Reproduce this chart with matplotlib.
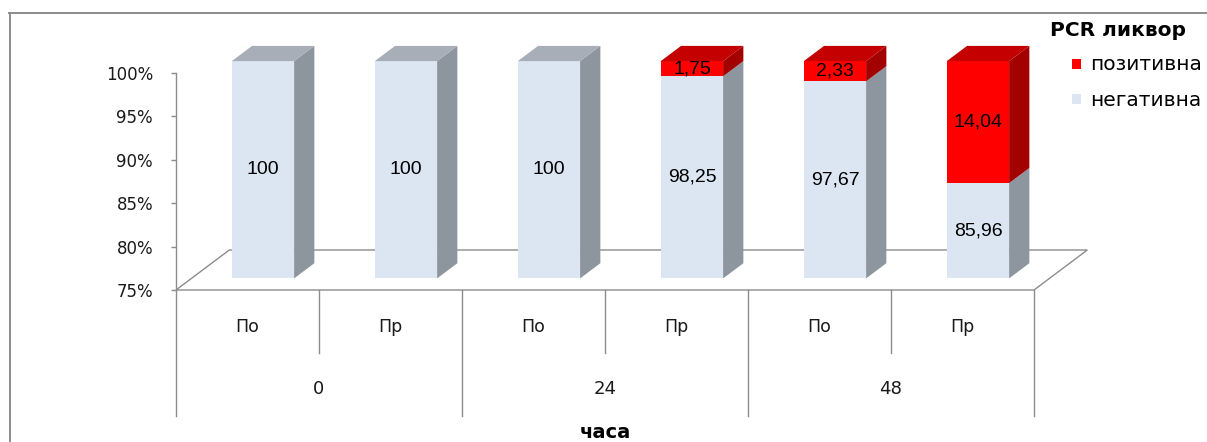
import matplotlib
matplotlib.use("Agg")
import matplotlib.pyplot as plt
from matplotlib.patches import Polygon, Rectangle
from matplotlib.lines import Line2D
from matplotlib.ticker import FuncFormatter

# ---- data -------------------------------------------------------------
groups = ["0", "24", "48"]
subgroups = ["По", "Пр"]
negative = [100, 100, 100, 98.25, 97.67, 85.96]
positive = [0, 0, 0, 1.75, 2.33, 14.04]
series_names = ["позитивна", "негативна"]
legend_title = "PCR ликвор"
axis_title = "часа"
yticks = [75, 80, 85, 90, 95, 100]

# ---- styling ----------------------------------------------------------
NEG_FRONT, NEG_SIDE, NEG_TOP = "#DCE6F2", "#8D959E", "#A7AEB7"
POS_FRONT, POS_SIDE, POS_TOP = "#FF0000", "#A30000", "#C40000"
LINE = "#8C8C8C"
TXT = "#1A1A1A"

W, H, DPI = 1207, 442, 100
fig = plt.figure(figsize=(W / DPI, H / DPI), dpi=DPI)
fig.patch.set_facecolor("white")

def fx(px):
    return px / W

def fy(py):
    return 1 - py / H

# plot area: x in category slots, y in percent
x0_px, x1_px = 176, 1034
ybot_px, ytop_px = 290, 72.7
ax = fig.add_axes([fx(x0_px), fy(ybot_px), (x1_px - x0_px) / W, (ybot_px - ytop_px) / H])
n = len(negative)
ax.set_xlim(0, n)
ax.set_ylim(yticks[0], yticks[-1])
ax.patch.set_visible(False)

px_x = (x1_px - x0_px) / n                              # pixels per category slot
px_y = (ybot_px - ytop_px) / (yticks[-1] - yticks[0])   # pixels per percent

# oblique depth direction (full floor depth)
DX = 53.3 / px_x
DY = 40.0 / px_y
D_FRONT, D_BACK = 0.29, 0.67
BAR_W = 62.3 / px_x
base = yticks[0]

# floor
floor = Polygon([(0, base), (n, base), (n + DX, base + DY), (DX, base + DY)],
                closed=True, facecolor="white", edgecolor=LINE, lw=1.0,
                clip_on=False, zorder=1)
ax.add_patch(floor)

def box(xl, y0, y1, front, side, top, draw_top):
    """Draw one 3-D bar segment; returns front-face centre x and depth lift."""
    fdx, fdy = D_FRONT * DX, D_FRONT * DY
    bdx, bdy = (D_BACK - D_FRONT) * DX, (D_BACK - D_FRONT) * DY
    xl = xl + fdx
    xr = xl + BAR_W
    y0f, y1f = y0 + fdy, y1 + fdy
    ax.add_patch(Polygon([(xl, y0f), (xr, y0f), (xr, y1f), (xl, y1f)],
                         facecolor=front, edgecolor="none", clip_on=False, zorder=3))
    ax.add_patch(Polygon([(xr, y0f), (xr + bdx, y0f + bdy), (xr + bdx, y1f + bdy), (xr, y1f)],
                         facecolor=side, edgecolor="none", clip_on=False, zorder=3))
    if draw_top:
        ax.add_patch(Polygon([(xl, y1f), (xr, y1f), (xr + bdx, y1f + bdy), (xl + bdx, y1f + bdy)],
                             facecolor=top, edgecolor="none", clip_on=False, zorder=3))
    return (xl + xr) / 2, fdy

def fmt(v):
    if float(v).is_integer():
        return str(int(v))
    return f"{v:.2f}".replace(".", ",")

for i, (ng, ps) in enumerate(zip(negative, positive)):
    xl = i + 0.5 - BAR_W / 2
    cx, fdy = box(xl, base, ng, NEG_FRONT, NEG_SIDE, NEG_TOP, ps == 0)
    ax.text(cx, (base + ng) / 2 + fdy, fmt(ng), ha="center", va="center",
            fontsize=14, family="Liberation Sans", color="black", zorder=5)
    if ps > 0:
        cx, fdy = box(xl, ng, ng + ps, POS_FRONT, POS_SIDE, POS_TOP, True)
        ax.text(cx, ng + ps / 2 + fdy, fmt(ps), ha="center", va="center",
                fontsize=14, family="Liberation Sans", color="black", zorder=5)

# value axis
for s in ["top", "right", "bottom"]:
    ax.spines[s].set_visible(False)
ax.spines["left"].set_color(LINE)
ax.spines["left"].set_linewidth(1.0)
ax.spines["left"].set_zorder(2)
ax.set_xticks([])
ax.set_yticks(yticks)
ax.yaxis.set_major_formatter(FuncFormatter(lambda v, p: f"{int(v)}%"))
ax.tick_params(axis="y", length=5 * 72 / DPI, width=1.0, color=LINE,
               pad=18 * 72 / DPI, labelsize=12, labelcolor=TXT)
for t in ax.get_yticklabels():
    t.set_family("DejaVu Sans")

# category axis: separators and two-level labels
short_len, long_len = 63 / px_y, 126 / px_y
for k in range(n + 1):
    ln = long_len if k % len(subgroups) == 0 else short_len
    ax.add_line(Line2D([k, k], [base, base - ln], color=LINE, lw=1.0,
                       clip_on=False, zorder=2))

for i in range(n):
    ax.text(i + 0.5, base - 37 / px_y, subgroups[i % len(subgroups)],
            ha="center", va="center", fontsize=12.5, color=TXT, clip_on=False)
for g, name in enumerate(groups):
    gc = g * len(subgroups) + len(subgroups) / 2
    ax.text(gc, base - 98.5 / px_y, name, ha="center", va="center",
            fontsize=13, color=TXT, clip_on=False)

fig.text(fx(605), fy(433), axis_title, ha="center", va="center",
         fontsize=14, fontweight="bold", color="black")

# legend
fig.text(fx(1050), fy(30), legend_title, ha="left", va="center",
         fontsize=14.5, fontweight="bold", color="black")
leg_colors = [POS_FRONT, NEG_FRONT]
leg_y = [64, 99]
for name, col, yy in zip(series_names, leg_colors, leg_y):
    fig.add_artist(Rectangle((fx(1072), fy(yy + 4.5)), 9 / W, 9 / H,
                             transform=fig.transFigure, facecolor=col, edgecolor="none"))
    fig.text(fx(1090), fy(yy + 1), name, ha="left", va="center",
             fontsize=14.5, color="black")

# chart frame
fig.add_artist(Line2D([fx(9), 1], [fy(12.5), fy(12.5)], transform=fig.transFigure,
                      color=LINE, lw=1.4))
fig.add_artist(Line2D([fx(9.5), fx(9.5)], [0, fy(12.5)], transform=fig.transFigure,
                      color=LINE, lw=1.4))

fig.savefig("out.png", dpi=DPI, facecolor="white")
